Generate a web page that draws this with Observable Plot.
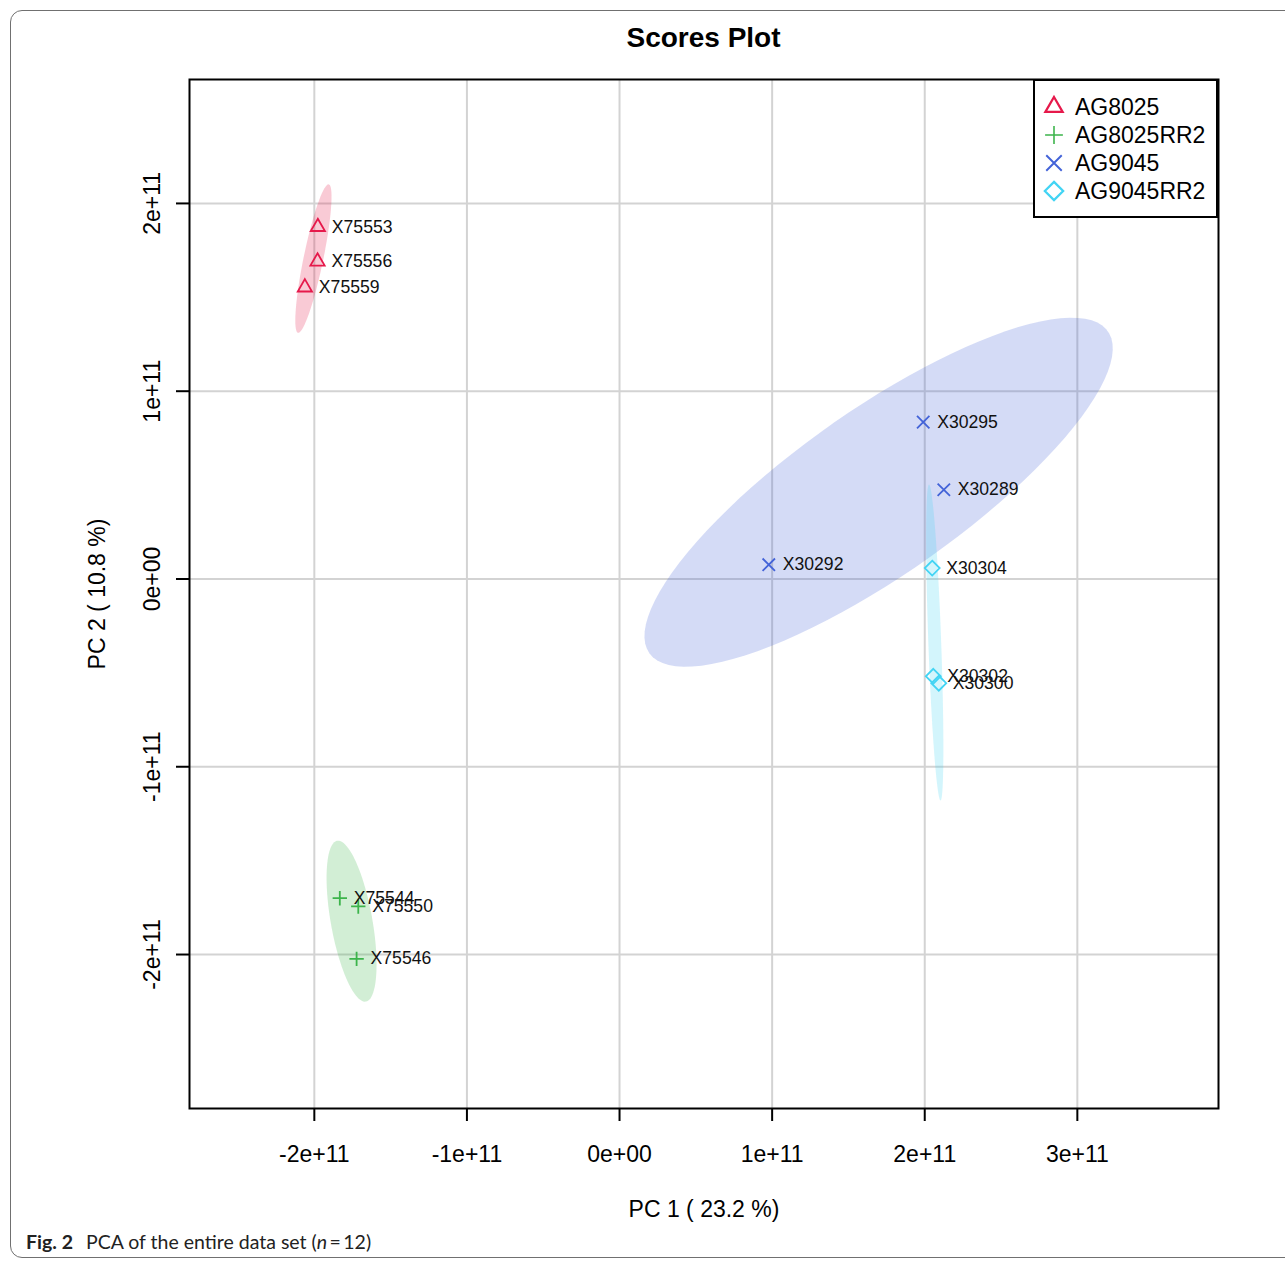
<!DOCTYPE html>
<html>
<head>
<meta charset="utf-8">
<script src="https://cdn.jsdelivr.net/npm/d3@7"></script>
<script src="https://cdn.jsdelivr.net/npm/@observablehq/plot@0.6"></script>
<style>
  html, body { margin: 0; padding: 0; background: #fff; overflow: hidden; }
  #page { position: relative; width: 1285px; height: 1261px; font-family: "Liberation Sans", Arial, Helvetica, sans-serif; color: #000; }
  #border { position: absolute; left: 10px; top: 10px; width: 1300px; height: 1248px; border: 1.5px solid #707070; border-radius: 12px; box-sizing: border-box; pointer-events: none; }
  #title { position: relative; height: 60px; box-sizing: border-box; padding-top: 24px; margin-left: 189px; width: 1029px; text-align: center; font-weight: bold; font-size: 28px; line-height: 28px; }
  #chart svg { display: block; }
  #legendBox { position: absolute; left: 1033px; top: 79px; width: 185px; height: 139px; border: 2px solid #000; box-sizing: border-box; background: #fff; padding: 12px 0 0 9px; }
  #legendBox .pl-swatches { font-family: "Liberation Sans", Arial, sans-serif !important; font-size: 23px !important; margin: 0 !important; display: flex !important; flex-direction: column !important; columns: auto !important; }
  #legendBox .pl-swatch { display: flex !important; align-items: center !important; height: 28px; margin: 0 !important; padding: 0 !important; }
  #legendBox .pl-swatch svg { margin-right: 11px !important; flex: none; }
  #legendBox .pl-swatch:nth-of-type(2) svg path { transform: scale(0.7); }
  #legendBox .pl-swatch:nth-of-type(3) svg path { transform: scale(0.86); }
  #legendBox .pl-swatch-label, #legendBox .pl-swatch span { overflow: visible !important; white-space: nowrap; }
  #caption { position: absolute; left: 26px; top: 1225px; font-family: Lato, "Noto Sans", sans-serif; font-size: 19.5px; line-height: 34px; color: #222; white-space: nowrap; }
  #caption b { margin-right: 8px; color: #222; }
</style>
</head>
<body>
<div id="page">
  <div id="border"></div>
  <div id="title">Scores Plot</div>
  <div id="chart"></div>
  <div id="legendBox"></div>
  <div id="caption"><b>Fig. 2</b> PCA of the entire data set (<i>n</i>&#8201;=&#8201;12)</div>
</div>
<script>
// Sample groups
const groups = ["AG8025", "AG8025RR2", "AG9045", "AG9045RR2"];

// PCA scores per sample
const sampleIds    = ["X75553", "X75556", "X75559", "X75544", "X75550", "X75546", "X30295", "X30289", "X30292", "X30304", "X30302", "X30300"];
const sampleGroups = ["AG8025", "AG8025", "AG8025", "AG8025RR2", "AG8025RR2", "AG8025RR2", "AG9045", "AG9045", "AG9045", "AG9045RR2", "AG9045RR2", "AG9045RR2"];
const pc1Scores    = [-1.977e11, -1.979e11, -2.062e11, -1.833e11, -1.712e11, -1.723e11, 1.990e11, 2.125e11, 0.978e11, 2.049e11, 2.056e11, 2.092e11];
const pc2Scores    = [1.875e11, 1.691e11, 1.553e11, -1.700e11, -1.744e11, -2.023e11, 0.835e11, 0.475e11, 0.076e11, 0.058e11, -0.518e11, -0.555e11];

// Axis ticks and titles
const xTicks = [-2e11, -1e11, 0, 1e11, 2e11, 3e11];
const xTickLabels = ["-2e+11", "-1e+11", "0e+00", "1e+11", "2e+11", "3e+11"];
const yTicks = [-2e11, -1e11, 0, 1e11, 2e11];
const yTickLabels = ["-2e+11", "-1e+11", "0e+00", "1e+11", "2e+11"];
const xTitle = "PC 1 ( 23.2 %)";
const yTitle = "PC 2 ( 10.8 %)";

// Styling per group
const groupColors = ["#e6194b", "#3cb44b", "#4363d8", "#42d4f4"];
const groupSymbols = ["triangle2", "plus", "times", "diamond2"];
const symbolRadius = {triangle2: 6.8, plus: 4.7, times: 5.7, diamond2: 6.7};

const points = sampleIds.map((id, i) => ({id, group: sampleGroups[i], pc1: pc1Scores[i], pc2: pc2Scores[i]}));
const symbolOf = new Map(groups.map((g, i) => [g, groupSymbols[i]]));

// 95% confidence ellipse of each group (same construction as R's ellipse::ellipse)
function confidenceEllipse(rows, level = 0.95, segments = 100) {
  const t = Math.sqrt(-2 * Math.log(1 - level)); // sqrt(qchisq(level, 2))
  const mx = d3.mean(rows, d => d.pc1), my = d3.mean(rows, d => d.pc2);
  const sx = d3.deviation(rows, d => d.pc1), sy = d3.deviation(rows, d => d.pc2);
  const cov = d3.sum(rows, d => (d.pc1 - mx) * (d.pc2 - my)) / (rows.length - 1);
  const dAng = Math.acos(cov / (sx * sy));
  return d3.range(segments).map(k => {
    const a = 2 * Math.PI * k / (segments - 1);
    return {x: mx + t * sx * Math.cos(a + dAng / 2), y: my + t * sy * Math.cos(a - dAng / 2)};
  });
}
const ellipses = groups.flatMap(g =>
  confidenceEllipse(points.filter(p => p.group === g)).map(p => ({...p, group: g}))
);

const xLabelOf = new Map(xTicks.map((v, i) => [v, xTickLabels[i]]));
const yLabelOf = new Map(yTicks.map((v, i) => [v, yTickLabels[i]]));

const plot = Plot.plot({
  width: 1285,
  height: 1165,
  marginTop: 19,
  marginBottom: 117,
  marginLeft: 189,
  marginRight: 67,
  style: {fontFamily: '"Liberation Sans", Arial, Helvetica, sans-serif', color: "#000", background: "transparent", overflow: "visible"},
  x: {domain: [-2.818e11, 3.925e11]},
  y: {domain: [-2.82e11, 2.66e11]},
  color: {domain: groups, range: groupColors},
  symbol: {domain: groups, range: groupSymbols},
  r: {type: "identity"},
  marks: [
    Plot.gridX(xTicks, {stroke: "#d3d3d3", strokeOpacity: 1, strokeWidth: 2}),
    Plot.gridY(yTicks, {stroke: "#d3d3d3", strokeOpacity: 1, strokeWidth: 2}),
    Plot.line(ellipses, {x: "x", y: "y", z: "group", fill: "group", fillOpacity: 0.23, stroke: "none", curve: "linear-closed"}),
    Plot.frame({stroke: "#000", strokeWidth: 2}),
    Plot.axisX(xTicks, {tickSize: 13, tickPadding: 24, tickFormat: d => xLabelOf.get(d), fontSize: 23, strokeWidth: 2, label: null}),
    Plot.axisY(yTicks, {tickSize: 13, tickPadding: 17, tickRotate: -90, tickFormat: d => yLabelOf.get(d), fontSize: 23, strokeWidth: 2, label: null}),
    Plot.text([xTitle], {frameAnchor: "bottom", dy: 101, fontSize: 23, lineAnchor: "middle"}),
    Plot.text([yTitle], {frameAnchor: "left", dx: -92, rotate: -90, fontSize: 23, textAnchor: "middle", lineAnchor: "middle"}),
    Plot.dot(points, {x: "pc1", y: "pc2", symbol: "group", stroke: "group", fill: "none", r: d => symbolRadius[symbolOf.get(d.group)], strokeWidth: 1.8}),
    Plot.text(points, {x: "pc1", y: "pc2", text: "id", textAnchor: "start", dx: 14, fontSize: 17.6, fill: "#111"})
  ]
});
document.getElementById("chart").append(plot);

const legend = plot.legend("symbol", {className: "pl", columns: 1, r: 6.6, strokeWidth: 1.8, swatchSize: 20});
if (legend) document.getElementById("legendBox").append(legend);
</script>
</body>
</html>
